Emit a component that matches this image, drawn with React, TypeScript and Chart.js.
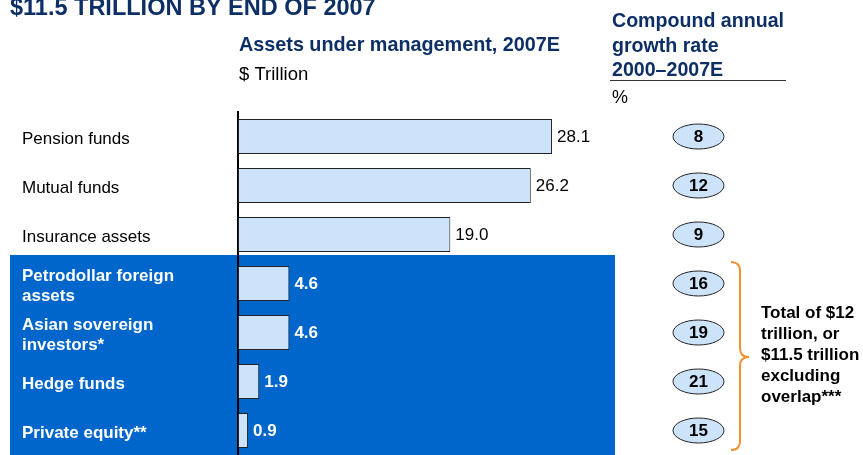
import React, { useEffect, useRef } from "react";
import { Chart, registerables } from "chart.js";

Chart.register(...registerables);

const categories: (string | string[])[] = [
  "Pension funds",
  "Mutual funds",
  "Insurance assets",
  ["Petrodollar foreign", "assets"],
  ["Asian sovereign", "investors*"],
  "Hedge funds",
  "Private equity**",
];
const assets2007E = [28.1, 26.2, 19.0, 4.6, 4.6, 1.9, 0.9];
const cagrPct = [8, 12, 9, 16, 19, 21, 15];
const valueLabels = ["28.1", "26.2", "19.0", "4.6", "4.6", "1.9", "0.9"];
const highlightFrom = 3;

const pageTitle = "$11.5 TRILLION BY END OF 2007";
const chartTitle = "Assets under management, 2007E";
const chartUnit = "$ Trillion";
const cagrTitle = ["Compound annual", "growth rate", "2000\u20132007E"];
const cagrUnit = "%";
const braceNote = ["Total of $12", "trillion, or", "$11.5 trillion", "excluding", "overlap***"];

const FONT = "'Liberation Sans', Arial, Helvetica, sans-serif";
const NAVY = "#0d2f66";
const BLUE_BOX = "#0066cc";
const BAR_FILL = "#cce3fa";
const ORANGE = "#f0902e";

const decorPlugin = {
  id: "decor",
  beforeDraw(chart: any) {
    const ctx = chart.ctx;
    ctx.save();
    ctx.fillStyle = BLUE_BOX;
    ctx.fillRect(10, 255, 605, 210);
    ctx.restore();
  },
  afterDraw(chart: any) {
    const ctx = chart.ctx;
    const y = chart.scales.y;
    const meta = chart.getDatasetMeta(0);
    ctx.save();
    ctx.textBaseline = "alphabetic";
    ctx.textAlign = "left";
    // titles
    ctx.fillStyle = NAVY;
    ctx.font = `bold 23.5px ${FONT}`;
    ctx.fillText(pageTitle, 10, 15);
    ctx.font = `bold 19.8px ${FONT}`;
    ctx.fillText(chartTitle, 239, 51);
    ctx.fillStyle = "#000";
    ctx.font = `18.5px ${FONT}`;
    ctx.fillText(chartUnit, 239, 80);
    ctx.fillStyle = NAVY;
    ctx.font = `bold 19.6px ${FONT}`;
    cagrTitle.forEach((t, i) => ctx.fillText(t, 612, 27 + i * 24.5));
    ctx.strokeStyle = "#333";
    ctx.lineWidth = 1.2;
    ctx.beginPath();
    ctx.moveTo(610, 80.5);
    ctx.lineTo(786, 80.5);
    ctx.stroke();
    ctx.fillStyle = "#000";
    ctx.font = `18px ${FONT}`;
    ctx.fillText(cagrUnit, 612, 103);

    // value labels
    meta.data.forEach((bar: any, i: number) => {
      const hl = i >= highlightFrom;
      ctx.font = `${hl ? "bold " : ""}17px ${FONT}`;
      ctx.fillStyle = hl ? "#fff" : "#000";
      ctx.textBaseline = "middle";
      ctx.fillText(valueLabels[i], bar.x + 5, bar.y + 1);
    });

    // CAGR ellipses
    cagrPct.forEach((v, i) => {
      const cy = y.getPixelForValue(i);
      ctx.beginPath();
      ctx.ellipse(698.5, cy, 25.5, 12.5, 0, 0, Math.PI * 2);
      ctx.fillStyle = BAR_FILL;
      ctx.fill();
      ctx.lineWidth = 1;
      ctx.strokeStyle = "#222";
      ctx.stroke();
      ctx.fillStyle = "#000";
      ctx.font = `bold 17px ${FONT}`;
      ctx.textAlign = "center";
      ctx.textBaseline = "middle";
      ctx.fillText(String(v), 698.5, cy + 1);
    });

    // brace
    const top = 262, bot = 450, mid = 357;
    ctx.strokeStyle = ORANGE;
    ctx.lineWidth = 2;
    ctx.beginPath();
    ctx.moveTo(731, top);
    ctx.quadraticCurveTo(740, top, 740, top + 9);
    ctx.lineTo(740, mid - 9);
    ctx.quadraticCurveTo(740, mid, 749, mid);
    ctx.quadraticCurveTo(740, mid, 740, mid + 9);
    ctx.lineTo(740, bot - 9);
    ctx.quadraticCurveTo(740, bot, 731, bot);
    ctx.stroke();

    ctx.fillStyle = "#000";
    ctx.font = `bold 17px ${FONT}`;
    ctx.textAlign = "left";
    ctx.textBaseline = "alphabetic";
    braceNote.forEach((t, i) => ctx.fillText(t, 761, 318 + i * 21));
    ctx.restore();
  },
};

export default function App() {
  const ref = useRef<HTMLCanvasElement>(null);
  useEffect(() => {
    if (!ref.current) return;
    const chart = new Chart(ref.current, {
      type: "bar",
      data: {
        labels: categories,
        datasets: [
          {
            data: assets2007E,
            backgroundColor: BAR_FILL,
            borderColor: "#222",
            borderWidth: 1,
            borderSkipped: false,
            barPercentage: 0.714,
            categoryPercentage: 1,
          },
        ],
      },
      options: {
        indexAxis: "y",
        responsive: false,
        animation: false,
        layout: { padding: { left: 22, right: 178, top: 112, bottom: 0 } },
        plugins: { legend: { display: false }, tooltip: { enabled: false } },
        scales: {
          x: { display: false, min: 0, max: 40 },
          y: {
            grid: { display: false, drawTicks: false },
            border: { display: true, color: "#000", width: 2 },
            afterFit: (s: any) => {
              s.width = 216;
              s.paddingTop = 0;
              s.paddingBottom = 0;
            },
            ticks: {
              crossAlign: "far",
              padding: 0,
              labelOffset: 3,
              color: (c: any) => (c.index >= highlightFrom ? "#fff" : "#000"),
              font: (c: any) => ({
                family: FONT,
                size: 17,
                weight: c.index >= highlightFrom ? "bold" : "normal",
                lineHeight: 1.2,
              }),
            },
          },
        },
      },
      plugins: [decorPlugin],
    } as any);
    return () => chart.destroy();
  }, []);
  return (
    <div style={{ position: "absolute", left: 0, top: 0, width: 863, height: 455, background: "#fff" }}>
      <canvas ref={ref} width={863} height={455} />
    </div>
  );
}
